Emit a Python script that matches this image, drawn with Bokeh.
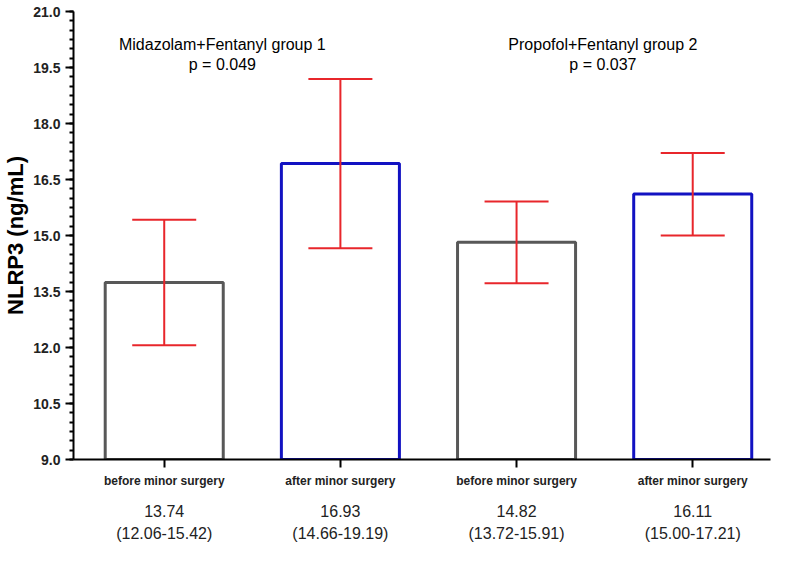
from bokeh.plotting import figure
from bokeh.models import (ColumnDataSource, Whisker, TeeHead, LinearAxis, FixedTicker,
                          SingleIntervalTicker, PrintfTickFormatter, Label, Range1d)
from bokeh.embed import file_html
from bokeh.resources import INLINE

# ---- data ----
categories = ["before minor surgery", "after minor surgery", "before minor surgery", "after minor surgery"]
medians = [13.74, 16.93, 14.82, 16.11]
lows = [12.06, 14.66, 13.72, 15.00]
highs = [15.42, 19.19, 15.91, 17.21]
group_titles = ["Midazolam+Fentanyl group 1", "Propofol+Fentanyl group 2"]
p_values = ["p = 0.049", "p = 0.037"]

GRAY = "#585858"
BLUE = "#1212c2"
RED = "#e8262b"
colors = [GRAY, BLUE, GRAY, BLUE]
xs = [1, 2, 3, 4]

src = ColumnDataSource(dict(x=xs, top=medians, low=lows, high=highs, color=colors))

p = figure(width=771, height=553, output_backend="svg", toolbar_location=None,
           x_range=Range1d(0.485, 4.4415), y_range=Range1d(9, 21),
           min_border_left=64, min_border_right=1, min_border_top=11, min_border_bottom=94)
p.outline_line_color = None
p.xgrid.grid_line_color = None
p.ygrid.grid_line_color = None

p.vbar(x="x", top="top", bottom=9, width=0.67, source=src, fill_color="white",
       line_color="color", line_width=3)

w = Whisker(base="x", lower="low", upper="high", source=src, dimension="height",
            line_color=RED, line_width=2, level="overlay",
            upper_head=TeeHead(size=64, line_color=RED, line_width=2),
            lower_head=TeeHead(size=64, line_color=RED, line_width=2))
p.add_layout(w)

# y axis
ya = p.yaxis[0]
ya.ticker = SingleIntervalTicker(interval=1.5, num_minor_ticks=6)
ya.formatter = PrintfTickFormatter(format="%.1f")
ya.axis_label = "NLRP3 (ng/mL)"
ya.axis_label_text_font = "Liberation Sans"
ya.axis_label_text_font_style = "bold"
ya.axis_label_text_font_size = "22px"
ya.axis_label_text_color = "black"
ya.axis_label_standoff = 2
ya.major_label_text_font = "Liberation Sans"
ya.major_label_text_font_style = "bold"
ya.major_label_text_font_size = "14px"
ya.major_label_text_color = "#222222"
ya.axis_line_width = 2
ya.major_tick_line_width = 2
ya.minor_tick_line_width = 2
ya.major_tick_out = 8
ya.major_tick_in = 0
ya.minor_tick_out = 4
ya.minor_tick_in = 0
ya.major_label_standoff = 5

# x axis (category names)
xa = p.xaxis[0]
xa.ticker = FixedTicker(ticks=xs)
xa.major_label_overrides = {x: c for x, c in zip(xs, categories)}
xa.major_label_text_font = "Liberation Sans"
xa.major_label_text_font_style = "bold"
xa.major_label_text_font_size = "12px"
xa.major_label_text_color = "#222222"
xa.axis_line_width = 2
xa.major_tick_line_width = 2
xa.major_tick_out = 8
xa.major_tick_in = 0
xa.minor_tick_line_color = None
xa.major_label_standoff = 6

# second x axis with medians and ranges
xa2 = LinearAxis(ticker=FixedTicker(ticks=xs))
xa2.major_label_overrides = {x: f"{m:.2f}\n({lo:.2f}-{hi:.2f})" for x, m, lo, hi in zip(xs, medians, lows, highs)}
xa2.axis_line_color = None
xa2.major_tick_line_color = None
xa2.minor_tick_line_color = None
xa2.major_label_text_font = "Liberation Sans"
xa2.major_label_text_font_size = "16px"
xa2.major_label_text_color = "#222222"
xa2.major_label_text_line_height = 1.35
xa2.major_label_standoff = 6
p.add_layout(xa2, "below")

# group annotations
title_x = [1.33, 3.49]
for tx, t, pv in zip(title_x, group_titles, p_values):
    p.add_layout(Label(x=tx, y=20.11, text=t, text_align="center", text_baseline="middle",
                       text_font="Liberation Sans", text_font_size="16px", text_color="black"))
    p.add_layout(Label(x=tx, y=19.58, text=pv, text_align="center", text_baseline="middle",
                       text_font="Liberation Sans", text_font_size="16px", text_color="black"))

open("out.html", "w").write(file_html(p, INLINE))
